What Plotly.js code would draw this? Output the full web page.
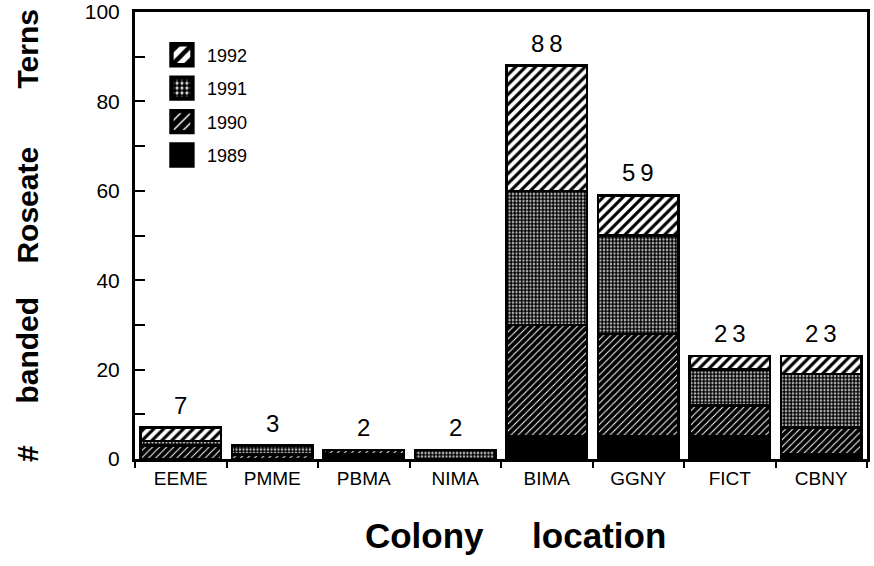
<!DOCTYPE html>
<html>
<head>
<meta charset="utf-8">
<script src="https://cdn.plot.ly/plotly-3.0.1.min.js"></script>
<style>
  html, body { margin: 0; padding: 0; background: #fff; }
  #chart { width: 874px; height: 566px; }
</style>
</head>
<body>
<div id="chart"></div>
<script>
// ---- data ----
const categories = ['EEME', 'PMME', 'PBMA', 'NIMA', 'BIMA', 'GGNY', 'FICT', 'CBNY'];
const y1989 = [0, 0, 1, 0, 5, 5, 5, 1];
const y1990 = [3, 1, 1, 0, 25, 23, 7, 6];
const y1991 = [1, 2, 0, 2, 30, 22, 8, 12];
const y1992 = [3, 0, 0, 0, 28, 9, 3, 4];
const yTickVals = [0, 10, 20, 30, 40, 50, 60, 70, 80, 90, 100];
const yTickText = ['0', '', '20', '', '40', '', '60', '', '80', '', '100'];

const totals = categories.map((c, i) => y1989[i] + y1990[i] + y1991[i] + y1992[i]);

const border = { color: '#000', width: 2.5 };
const font = 'Liberation Sans, Arial, Helvetica, sans-serif';

const traces = [
  { name: '1989', y: y1989, legendrank: 4,
    marker: { color: '#000', line: border } },
  { name: '1990', y: y1990, legendrank: 3,
    marker: { color: '#000', line: border,
      pattern: { shape: '/', bgcolor: '#000', fgcolor: '#fff', size: 5, solidity: 0.2 } } },
  { name: '1991', y: y1991, legendrank: 2,
    marker: { color: '#fff', line: border,
      pattern: { shape: '.', bgcolor: '#fff', fgcolor: '#000', size: 3.5, solidity: 0.72 } } },
  { name: '1992', y: y1992, legendrank: 1,
    marker: { color: '#fff', line: border,
      pattern: { shape: '/', bgcolor: '#fff', fgcolor: '#000', size: 7, solidity: 0.45 } } }
].map(t => Object.assign({ type: 'bar', x: categories, hoverinfo: 'x+y+name', legendgroup: t.name }, t));

const annotations = categories.map((c, i) => ({
  x: c, y: totals[i], xref: 'x', yref: 'y',
  text: String(totals[i]).split('').join('\u2009'),
  showarrow: false, yanchor: 'bottom', yshift: 7,
  font: { family: font, size: 24, color: '#000' }
}));

const nb = n => '\u00A0'.repeat(n);

const layout = {
  width: 874, height: 566,
  paper_bgcolor: '#fff', plot_bgcolor: '#fff',
  margin: { l: 135, r: 7, t: 12, b: 107 },
  barmode: 'stack', bargap: 0.115,
  showlegend: true,
  legend: {
    x: 0.03, y: 0.945, xanchor: 'left', yanchor: 'top',
    traceorder: 'grouped', tracegroupgap: 7, itemwidth: 40,
    bgcolor: 'rgba(0,0,0,0)',
    font: { family: font, size: 18, color: '#000' }
  },
  xaxis: {
    type: 'category', range: [-0.5, 7.5],
    showline: true, linewidth: 3, linecolor: '#000', mirror: true,
    ticks: 'outside', tickson: 'boundaries', ticklen: 6, tickwidth: 2, tickcolor: '#000',
    tickfont: { family: font, size: 19, color: '#000' },
    showgrid: false, zeroline: false,
    title: { text: '\u200B' + nb(3) + 'Colony' + nb(5) + 'location', standoff: 36,
      font: { family: font, size: 35, color: '#000', weight: 'bold' } }
  },
  yaxis: {
    range: [0, 100], autorange: false,
    tickmode: 'array', tickvals: yTickVals, ticktext: yTickText,
    showline: true, linewidth: 3, linecolor: '#000', mirror: true,
    ticks: 'inside', ticklen: 10, tickwidth: 2, tickcolor: '#000',
    ticklabelstandoff: 8,
    tickfont: { family: font, size: 21, color: '#000' },
    showgrid: false, zeroline: false,
    title: { text: '#' + nb(5) + 'banded' + nb(4) + 'Roseate' + nb(7) + 'Terns', standoff: 38,
      font: { family: font, size: 30, color: '#000', weight: 'bold' } }
  },
  annotations: annotations
};

Plotly.newPlot('chart', traces, layout, { displayModeBar: false, staticPlot: true }).then(gd => {
  // enlarge legend swatches to match the reference's bigger key boxes
  gd.querySelectorAll('.legend .legendpoints path').forEach(p => {
    const t = p.getAttribute('transform') || '';
    p.setAttribute('transform', t + ' scale(1.75)');
  });
});
</script>
</body>
</html>
